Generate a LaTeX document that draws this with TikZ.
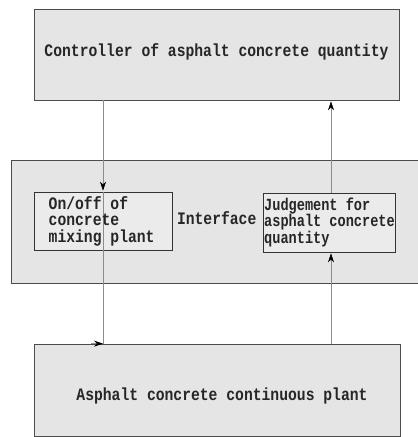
\documentclass[tikz,border=0pt]{standalone}
\usepackage{fontspec}
\newfontfamily\boxfont[FakeStretch=0.84]{Liberation Mono}
\newfontfamily\boxfontn[FakeStretch=0.80]{Liberation Mono}
\usetikzlibrary{arrows.meta,calc}
\begin{document}
\begin{tikzpicture}[x=1pt,y=1pt,
  box/.style={draw=black!70,line width=0.8pt,fill=black!10,inner sep=0pt},
  ibox/.style={draw=black!80,line width=0.9pt,fill=black!8,inner sep=0pt},
  txt/.style={font=\boxfont\bfseries\fontsize{17.5}{16.5}\selectfont,text=black!85,inner sep=0pt},
  txtn/.style={font=\boxfontn\bfseries\fontsize{17}{16.5}\selectfont,text=black!85,inner sep=0pt},
  conn/.style={draw=black!45,line width=0.5pt},
  tip/.style={-{Stealth[length=9pt,width=6pt,black]}}
]
\useasboundingbox (0,0) rectangle (418,437);
% boxes
\node[box,minimum width=365pt,minimum height=91pt] (top) at (216.5,382.5) {};
\node[box,minimum width=410pt,minimum height=123pt] (mid) at (216,215.5) {};
\node[box,minimum width=366pt,minimum height=92pt] (bot) at (217,47) {};
\node[ibox,minimum width=138pt,minimum height=58pt] (mix) at (103,216) {};
\node[ibox,minimum width=132pt,minimum height=59pt] (judge) at (329,214.5) {};
% connectors
\coordinate (L) at (103,0);
\coordinate (R) at (331,0);
\draw[conn,tip] (top.south -| L) -- ($(mix.north -| L)+(0,1)$);
\draw[conn] (mix.north -| L) -- (bot.north -| L);
\draw[conn,tip] ($(bot.north -| L)+(-12,0)$) -- (bot.north -| L);
\draw[conn,tip] (bot.north -| R) -- ($(judge.south -| R)+(0,-1)$);
\draw[conn,tip] (judge.north -| R) -- ($(top.south -| R)+(0,-1)$);
% texts
\node[txt,anchor=base] (ttop) at (216.5,380.3) {Controller of asphalt concrete quantity};
\node[txt,anchor=base] (tbot) at (222,36) {Asphalt concrete continuous plant};
\node[txt,anchor=base] (tint) at (216.7,212) {Interface};
\node[txt,anchor=west,align=left] (tmix) at (48.5,216) {On/off of\\concrete\\mixing plant};
\node[txtn,anchor=west,align=left] (tjudge) at (264,215) {Judgement for\\asphalt concrete\\quantity};
\end{tikzpicture}
\end{document}
